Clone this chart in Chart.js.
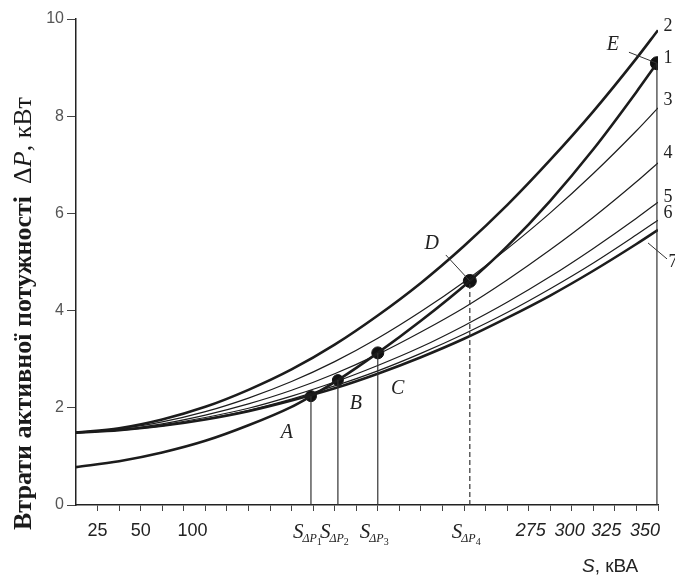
<!DOCTYPE html>
<html>
<head>
<meta charset="utf-8">
<script src="https://cdn.jsdelivr.net/npm/chart.js@4.4.1/dist/chart.umd.min.js"></script>
<style>
html, body { margin: 0; padding: 0; background: #fff; }
</style>
</head>
<body>
<canvas id="chart" width="675" height="582"></canvas>
<script>

// S axis is schematic in the figure: one unit = one minor tick
var sPos = [0, 2, 4, 6, 8, 10, 12, 14, 16, 18, 20, 22, 24, 26, 27];

// losses dP, kW for curves 2..7 (common no-load start)
var loss2 = [1.49, 1.58, 1.76, 2.02, 2.37, 2.79, 3.30, 3.90, 4.57, 5.33, 6.17, 7.10, 8.10, 9.19, 9.77];
var loss3 = [1.49, 1.57, 1.71, 1.92, 2.20, 2.54, 2.95, 3.43, 3.98, 4.59, 5.27, 6.01, 6.82, 7.70, 8.17];
var loss4 = [1.49, 1.55, 1.67, 1.85, 2.08, 2.36, 2.70, 3.10, 3.56, 4.06, 4.63, 5.25, 5.92, 6.65, 7.04];
var loss5 = [1.49, 1.54, 1.65, 1.80, 1.99, 2.24, 2.53, 2.87, 3.25, 3.69, 4.17, 4.70, 5.28, 5.90, 6.23];
var loss6 = [1.49, 1.54, 1.63, 1.77, 1.95, 2.18, 2.45, 2.76, 3.12, 3.52, 3.96, 4.45, 4.98, 5.56, 5.86];
var loss7 = [1.49, 1.54, 1.63, 1.76, 1.93, 2.15, 2.40, 2.70, 3.04, 3.42, 3.85, 4.31, 4.82, 5.37, 5.66];

// curve 1 runs through the switching points
var loss1Pos = [0, 2, 4, 6, 8, 10, 10.9, 12.15, 14, 16, 18.27, 20, 22, 24, 26, 26.95];
var loss1 = [0.78, 0.90, 1.08, 1.32, 1.64, 2.02, 2.24, 2.57, 3.13, 3.79, 4.61, 5.32, 6.26, 7.32, 8.50, 9.09];

var dotNames = ['A', 'B', 'C', 'D', 'E'];
var dotPos = [10.9, 12.15, 14.0, 18.27, 26.95];
var dotLoss = [2.24, 2.57, 3.13, 4.61, 9.09];

var tickPos = [1, 3, 5.4, 21.1, 22.9, 24.6, 26.4];
var tickText = ['25', '50', '100', '275', '300', '325', '350'];
var sIndex = ['1', '2', '3', '4'];

var yTicks = [0, 2, 4, 6, 8, 10];

function curve(xs, ys, width) {
	return {
		data: xs.map(function(x, i) { return {x: x, y: ys[i]}; }),
		borderColor: '#1c1c1c',
		borderWidth: width,
		pointRadius: 0,
		cubicInterpolationMode: 'monotone',
		fill: false
	};
}

var datasets = [];

// drop lines from the points to the S axis
for (var i = 0; i < dotPos.length; i++) {
	datasets.push({
		data: [{x: dotPos[i], y: 0}, {x: dotPos[i], y: dotLoss[i]}],
		borderColor: '#333',
		borderWidth: 1.2,
		borderDash: dotNames[i] == 'D' ? [5, 3] : [],
		pointRadius: 0
	});
}

datasets.push(curve(sPos, loss3, 1.2));
datasets.push(curve(sPos, loss4, 1.2));
datasets.push(curve(sPos, loss5, 1.2));
datasets.push(curve(sPos, loss6, 1.2));
datasets.push(curve(sPos, loss7, 2.6));
datasets.push(curve(sPos, loss2, 2.6));
datasets.push(curve(loss1Pos, loss1, 2.6));

datasets.push({
	data: dotPos.map(function(x, i) { return {x: x, y: dotLoss[i]}; }),
	showLine: false,
	pointRadius: [5.5, 5.5, 6, 6.5, 6.5],
	pointBackgroundColor: '#111',
	pointBorderColor: '#111'
});

var textPlugin = {
	id: 'figureText',
	afterDatasetsDraw: function(chart) {
		var ctx = chart.ctx;
		var xs = chart.scales.x, ys = chart.scales.y;
		ctx.save();
		ctx.fillStyle = '#222';
		ctx.strokeStyle = '#333';
		ctx.lineWidth = 1;

		// tick labels along S
		ctx.textAlign = 'center';
		ctx.textBaseline = 'middle';
		for (var i = 0; i < tickPos.length; i++) {
			ctx.font = (i > 2 ? 'italic ' : '') + '18px "Liberation Sans", Arial, sans-serif';
			ctx.fillText(tickText[i], xs.getPixelForValue(tickPos[i]), 531);
		}

		// S_dP labels under the first four points
		for (var i = 0; i < sIndex.length; i++) {
			var cx = xs.getPixelForValue(dotPos[i]) - 18;
			ctx.textAlign = 'left';
			ctx.textBaseline = 'alphabetic';
			ctx.font = 'italic 21px "Liberation Serif", serif';
			ctx.fillText('S', cx, 538);
			var w = ctx.measureText('S').width;
			ctx.font = 'italic 12px "Liberation Serif", serif';
			ctx.fillText('\u0394P', cx + w - 1, 542);
			var w2 = ctx.measureText('\u0394P').width;
			ctx.font = '10px "Liberation Serif", serif';
			ctx.fillText(sIndex[i], cx + w + w2 - 1, 545);
		}

		// axis name S, kVA
		ctx.textAlign = 'left';
		ctx.font = 'italic 19px "Liberation Sans", Arial, sans-serif';
		ctx.fillText('S', 582, 572);
		var sw = ctx.measureText('S').width;
		ctx.font = '19px "Liberation Sans", Arial, sans-serif';
		ctx.fillText(', \u043a\u0412\u0410', 582 + sw, 572);

		// point letters
		var letterOff = [[-24, 37], [18, 24], [20, 36], [-38, -37], [-44, -18]];
		ctx.font = 'italic 20px "Liberation Serif", serif';
		ctx.textAlign = 'center';
		ctx.textBaseline = 'middle';
		for (var i = 0; i < dotNames.length; i++) {
			var px = xs.getPixelForValue(dotPos[i]);
			var py = ys.getPixelForValue(dotLoss[i]);
			ctx.fillText(dotNames[i], px + letterOff[i][0], py + letterOff[i][1]);
		}

		// leaders for D and E
		var pd = [xs.getPixelForValue(dotPos[3]), ys.getPixelForValue(dotLoss[3])];
		var pe = [xs.getPixelForValue(dotPos[4]), ys.getPixelForValue(dotLoss[4])];
		ctx.beginPath();
		ctx.moveTo(pd[0] - 24, pd[1] - 26);
		ctx.lineTo(pd[0], pd[1]);
		ctx.moveTo(pe[0] - 28, pe[1] - 11);
		ctx.lineTo(pe[0], pe[1]);
		ctx.stroke();

		// curve numbers at the right end
		var ends = [loss2, null, loss3, loss4, loss5, loss6, loss7];
		var names = ['2', '1', '3', '4', '5', '6', '7'];
		var numOff = [-4, -5, -8, -10, -5, -7, 32];
		ctx.font = '18px "Liberation Serif", serif';
		for (var i = 0; i < names.length; i++) {
			var vy = ends[i] ? ends[i][ends[i].length - 1] : dotLoss[4];
			var ex = xs.getPixelForValue(27);
			var ey = ys.getPixelForValue(vy);
			ctx.fillText(names[i], ex + (i == 6 ? 15 : 10), ey + numOff[i]);
		}
		var e7 = [xs.getPixelForValue(27), ys.getPixelForValue(loss7[loss7.length - 1])];
		ctx.beginPath();
		ctx.moveTo(e7[0] - 10, e7[1] + 13);
		ctx.lineTo(e7[0] + 9, e7[1] + 29);
		ctx.stroke();

		// y axis name
		ctx.translate(24, 530);
		ctx.rotate(-Math.PI / 2);
		ctx.textAlign = 'left';
		ctx.textBaseline = 'middle';
		ctx.fillStyle = '#1a1a1a';
		ctx.font = 'bold 26px "Liberation Serif", serif';
		var t1 = '\u0412\u0442\u0440\u0430\u0442\u0438 \u0430\u043a\u0442\u0438\u0432\u043d\u043e\u0457 \u043f\u043e\u0442\u0443\u0436\u043d\u043e\u0441\u0442\u0456';
		ctx.fillText(t1, 0, 0);
		var off = ctx.measureText(t1).width + 12;
		ctx.font = '26px "Liberation Serif", serif';
		ctx.fillText('\u0394', off, 0);
		off += ctx.measureText('\u0394').width;
		ctx.font = 'italic 26px "Liberation Serif", serif';
		ctx.fillText('P', off, 0);
		off += ctx.measureText('P').width;
		ctx.font = '26px "Liberation Serif", serif';
		ctx.fillText(', \u043a\u0412\u0442', off, 0);
		ctx.restore();
	}
};

var lossChart = new Chart('chart', {
	type: 'line',
	data: { datasets: datasets },
	options: {
		responsive: false,
		animation: false,
		devicePixelRatio: 1,
		layout: { padding: { top: 19, right: 17, left: 0, bottom: 0 } },
		plugins: {
			legend: { display: false },
			tooltip: { enabled: false }
		},
		scales: {
			x: {
				type: 'linear',
				min: 0,
				max: 27,
				afterFit: function(scale) { scale.height = 77; },
				afterBuildTicks: function(scale) {
					var t = [];
					for (var k = 1; k <= 27; k++) t.push({value: k});
					scale.ticks = t;
				},
				ticks: {
					autoSkip: false,
					maxRotation: 0,
					callback: function() { return ''; }
				},
				grid: {
					drawOnChartArea: false,
					tickLength: 6,
					color: '#444'
				},
				border: { color: '#222', width: 1.5 }
			},
			y: {
				min: 0,
				max: 10,
				afterFit: function(scale) { scale.width = 76; },
				afterBuildTicks: function(scale) {
					scale.ticks = yTicks.map(function(v) { return {value: v}; });
				},
				ticks: {
					color: '#555',
					padding: 3,
					font: { family: '"Liberation Sans", Arial, sans-serif', size: 16 }
				},
				grid: {
					drawOnChartArea: false,
					tickLength: 9,
					color: '#444'
				},
				border: { color: '#222', width: 1.5 }
			}
		}
	},
	plugins: [textPlugin]
});
</script>
</body>
</html>
